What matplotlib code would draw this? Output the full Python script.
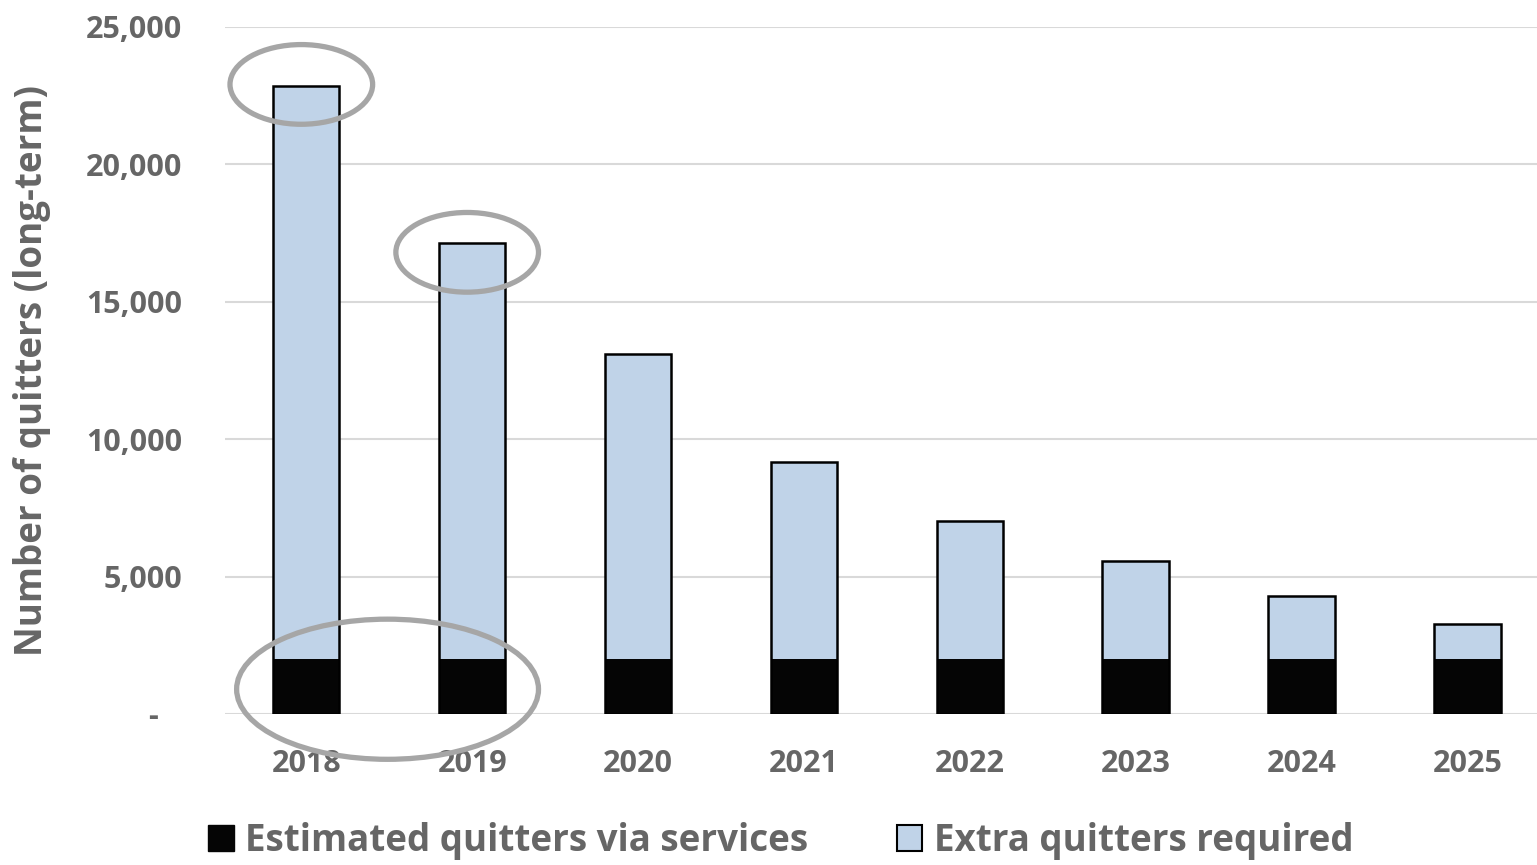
import matplotlib.pyplot as plt
from matplotlib.patches import Ellipse, Patch

years = ["2018", "2019", "2020", "2021", "2022", "2023", "2024", "2025"]
via_services = [2000, 2000, 2000, 2000, 2000, 2000, 2000, 2000]
extra_required = [20850, 15150, 11100, 7170, 5030, 3570, 2300, 1280]
y_ticks = [0, 5000, 10000, 15000, 20000, 25000]
y_tick_labels = ["-   ", "5,000", "10,000", "15,000", "20,000", "25,000"]

plt.rcParams["font.family"] = ["Open Sans", "DejaVu Sans"]
plt.rcParams["font.weight"] = "bold"

text_col = "#666666"
blue = "#C0D3E8"
ring = "#A6A6A6"

fig = plt.figure(figsize=(15.37, 8.65), dpi=100)
ax = fig.add_axes([0.1464, 0.1746, 0.8536, 0.7942])

x = list(range(len(years)))
totals = [a + b for a, b in zip(via_services, extra_required)]

# outline of the whole stacked bar
ax.bar(x, totals, width=0.40, color="none", edgecolor="black", linewidth=1.8, zorder=4)
ax.bar(x, via_services, width=0.40, color="#050505", edgecolor="none", zorder=3)
ax.bar(x, extra_required, bottom=via_services, width=0.40, color=blue,
       edgecolor="none", zorder=3)

ax.set_xlim(-0.49, 7.42)
ax.set_ylim(0, 25000)
ax.set_yticks(y_ticks)
ax.set_yticklabels(y_tick_labels)
ax.set_xticks(x)
ax.set_xticklabels(years)
ax.tick_params(axis="y", length=0, pad=31, labelsize=22, labelcolor=text_col)
ax.tick_params(axis="x", length=0, pad=25, labelsize=22, labelcolor=text_col)
for lab in ax.get_xticklabels() + ax.get_yticklabels():
    lab.set_fontweight("bold")

ax.grid(axis="y", color="#D9D9D9", linewidth=1.5, zorder=0)
ax.set_axisbelow(True)
for s in ax.spines.values():
    s.set_visible(False)

ax.set_ylabel("Number of quitters (long-term)", fontsize=26.5, color=text_col,
              fontweight="bold")
ax.yaxis.set_label_coords(-0.133, 0.5)

# grey rings highlighting 2018/2019
e1 = Ellipse((-0.03, totals[0] + 60), 0.86, 2900, fill=False, edgecolor=ring,
             linewidth=3.8, zorder=6, clip_on=False)
e2 = Ellipse((0.97, totals[1] - 350), 0.86, 2900, fill=False, edgecolor=ring,
             linewidth=3.8, zorder=6, clip_on=False)
e3 = Ellipse((0.49, via_services[0] - 1100), 1.82, 5100, fill=False, edgecolor=ring,
             linewidth=3.8, zorder=6, clip_on=False)
for e in (e1, e2, e3):
    ax.add_patch(e)

handles = [Patch(facecolor="#050505", edgecolor="#050505"),
           Patch(facecolor=blue, edgecolor="black", linewidth=1.5)]
leg = fig.legend(handles, ["Estimated quitters via services", "Extra quitters required"],
                 loc="lower center", bbox_to_anchor=(0.508, -0.032), ncol=2, frameon=False,
                 fontsize=26.5, handlelength=0.7, handleheight=0.7, handletextpad=0.3,
                 columnspacing=2.4)
for t in leg.get_texts():
    t.set_color(text_col)
    t.set_fontweight("bold")

plt.savefig("out.png", dpi=100)
